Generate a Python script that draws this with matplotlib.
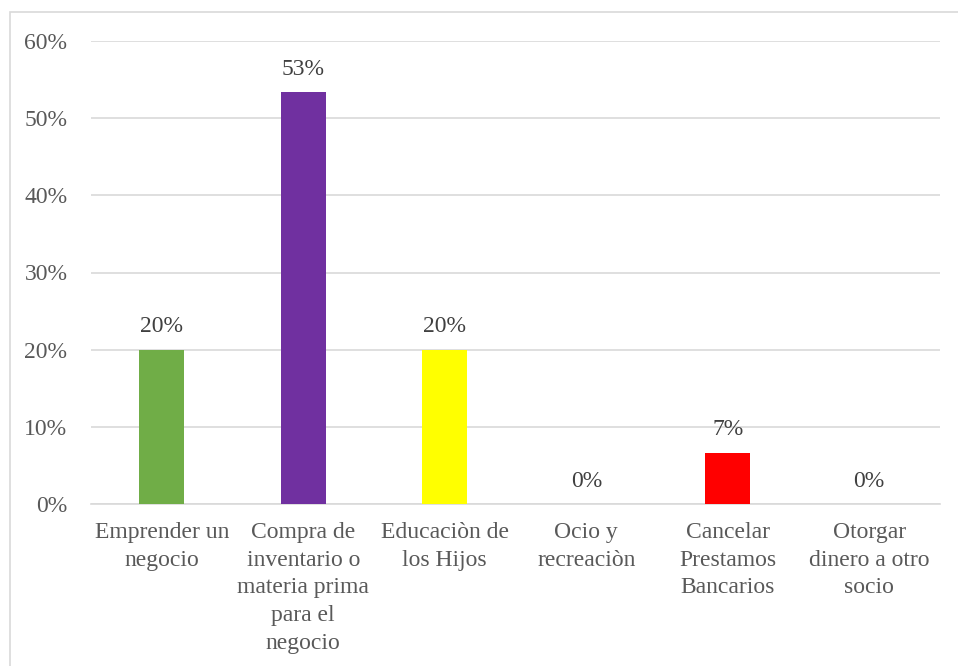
import matplotlib.pyplot as plt
from matplotlib.patches import Rectangle

categorias = [
    "Emprender un\nnegocio",
    "Compra de\ninventario o\nmateria prima\npara el\nnegocio",
    "Educaciòn de\nlos Hijos",
    "Ocio y\nrecreaciòn",
    "Cancelar\nPrestamos\nBancarios",
    "Otorgar\ndinero a otro\nsocio",
]
porcentajes = [20.0, 53.33, 20.0, 0.0, 6.67, 0.0]
colores = ["#70AD47", "#7030A0", "#FFFF00", "#FFFF00", "#FF0000", "#FF0000"]
ticks_y = [0, 10, 20, 30, 40, 50, 60]

gris = "#595959"
tam = 17
plt.rcParams["font.family"] = ["Liberation Serif", "DejaVu Serif"]

fig = plt.figure(figsize=(9.58, 6.66), dpi=100)
ax = fig.add_axes([91 / 958, 1 - 504 / 666, (940 - 91) / 958, (504 - 41) / 666])

# marco gris del grafico
fig.patches.append(Rectangle((9.5 / 958, -0.1), 1.2, 1 - 12 / 666 + 0.1,
                             transform=fig.transFigure, fill=False,
                             edgecolor="#D9D9D9", linewidth=1.2))

x = range(len(categorias))
barras = ax.bar(x, porcentajes, width=0.32, color=colores, zorder=3)
for xi, v in zip(x, porcentajes):
    ax.text(xi, v + 1.6, f"{v:.0f}%", ha="center", va="bottom",
            fontsize=tam, color="#404040")

ax.set_xlim(-0.5, len(categorias) - 0.5)
ax.set_ylim(0, 60)
ax.set_yticks(ticks_y)
ax.set_yticklabels([f"{t}%" for t in ticks_y])
ax.set_xticks(list(x))
ax.set_xticklabels(categorias, linespacing=1.42)
ax.tick_params(axis="both", length=0, labelsize=tam, labelcolor=gris)
ax.tick_params(axis="y", pad=17)
ax.tick_params(axis="x", pad=13)
ax.grid(axis="y", color="#D9D9D9", linewidth=1.2, zorder=0)
for lado in ["top", "right", "left"]:
    ax.spines[lado].set_visible(False)
ax.spines["bottom"].set_color("#D9D9D9")
ax.spines["bottom"].set_linewidth(1.2)

fig.savefig("out.png", dpi=100)
